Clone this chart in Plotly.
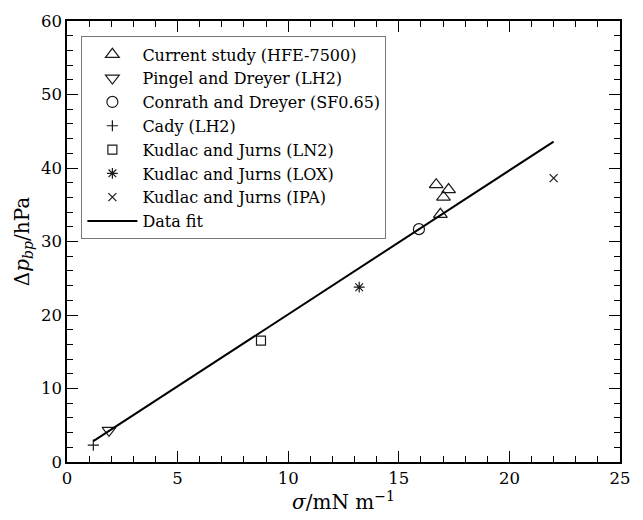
import plotly.graph_objects as go

# ---- data ----
hfe_x = [16.69, 17.25, 17.02, 16.88]
hfe_y = [37.74, 37.07, 36.03, 33.70]
pingel_x = [1.90]
pingel_y = [4.31]
conrath_x = [15.91]
conrath_y = [31.68]
cady_x = [1.19]
cady_y = [2.29]
ln2_x = [8.77]
ln2_y = [16.51]
lox_x = [13.21]
lox_y = [23.78]
ipa_x = [22.0]
ipa_y = [38.63]
fit_x = [1.19, 22.0]
fit_y = [2.83, 43.6]

FONT = "DejaVu Serif"
INK = "#1a1a1a"

series = [
    ("Current study (HFE-7500)", hfe_x, hfe_y, "triangle-up-open", 12),
    ("Pingel and Dreyer (LH2)", pingel_x, pingel_y, "triangle-down-open", 12),
    ("Conrath and Dreyer (SF0.65)", conrath_x, conrath_y, "circle-open", 11),
    ("Cady (LH2)", cady_x, cady_y, "cross-thin-open", 8),
    ("Kudlac and Jurns (LN2)", ln2_x, ln2_y, "square-open", 9),
    ("Kudlac and Jurns (LOX)", lox_x, lox_y, "asterisk-open", 9),
    ("Kudlac and Jurns (IPA)", ipa_x, ipa_y, "x-thin-open", 8),
]

fig = go.Figure()
for name, xs, ys, sym, sz in series:
    fig.add_trace(go.Scatter(
        x=xs, y=ys, mode="markers", name=name,
        marker=dict(symbol=sym, size=sz, color=INK,
                    line=dict(color=INK, width=1.2)),
    ))
fig.add_trace(go.Scatter(
    x=fit_x, y=fit_y, mode="lines", name="Data fit",
    line=dict(color="black", width=2),
))

axis_common = dict(
    showline=True, linecolor="black", linewidth=1.5, mirror="ticks",
    ticks="inside", ticklen=11, tickwidth=1.2, tickcolor="black",
    showgrid=False, zeroline=False,
    tickfont=dict(family=FONT, size=16.5, color="black"),
)

fig.update_xaxes(
    range=[0, 25], dtick=5, tick0=0,
    minor=dict(dtick=1, ticks="inside", ticklen=6, tickwidth=1, tickcolor="black", showgrid=False),
    title=dict(text="<i>σ</i>/mN m<sup>−1</sup>",
               font=dict(family=FONT, size=20, color="black"), standoff=6),
    **axis_common,
)
fig.update_yaxes(
    range=[0, 60], dtick=10, tick0=0,
    minor=dict(dtick=2, ticks="inside", ticklen=6, tickwidth=1, tickcolor="black", showgrid=False),
    title=dict(text="Δ<i>p</i><sub><i>bp</i></sub>/hPa",
               font=dict(family=FONT, size=20, color="black"), standoff=6),
    **axis_common,
)

fig.update_layout(
    width=643, height=520,
    margin=dict(l=67, r=12, t=17, b=57),
    paper_bgcolor="white", plot_bgcolor="white",
    font=dict(family=FONT, size=16, color="black"),
    showlegend=True,
    legend=dict(
        x=0.026, y=0.965, xanchor="left", yanchor="top",
        bgcolor="white", bordercolor="#777777", borderwidth=1,
        font=dict(family=FONT, size=16, color="black"),
        itemwidth=50, tracegroupgap=0,
    ),
)

fig.write_html("out.html")
